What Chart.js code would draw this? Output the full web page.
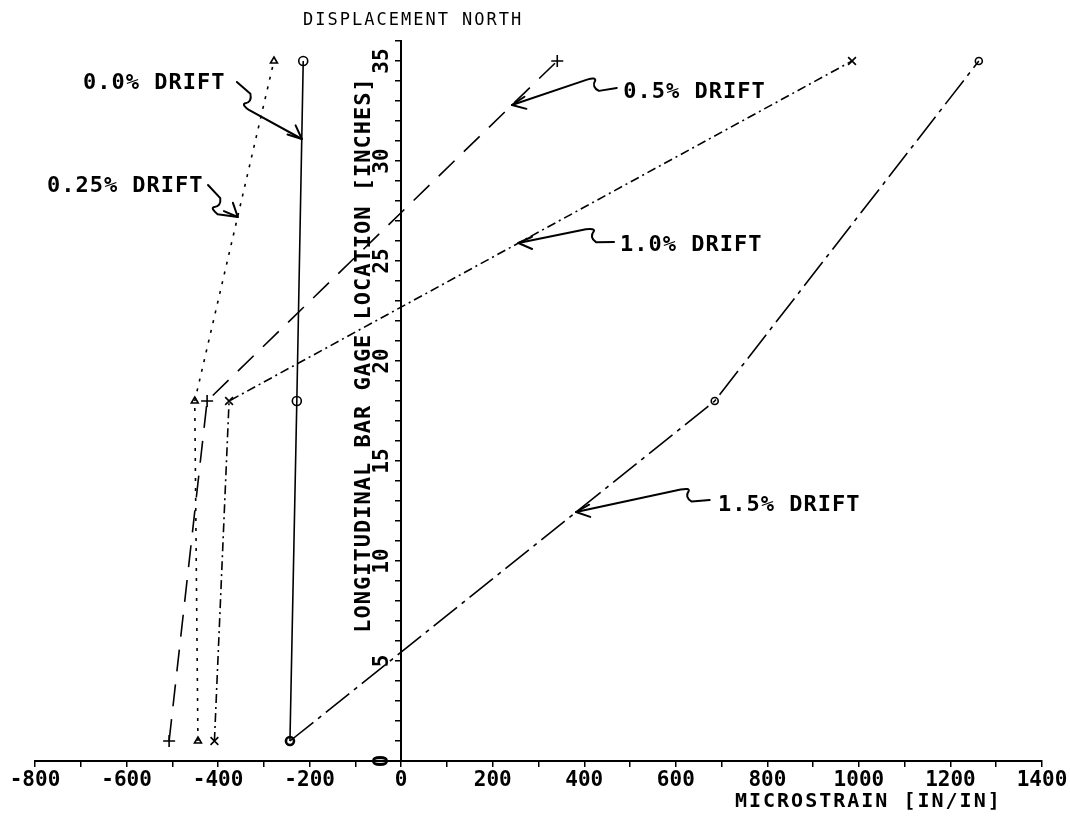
<!DOCTYPE html>
<html>
<head>
<meta charset="utf-8">
<title>Displacement North</title>
<script src="https://cdn.jsdelivr.net/npm/chart.js@4.4.1/dist/chart.umd.min.js"></script>
<style>
  html, body { margin: 0; padding: 0; background: #fff; }
  #wrap { width: 1070px; height: 820px; }
</style>
</head>
<body>
<div id="wrap"><canvas id="strainChart" width="1070" height="820"></canvas></div>
<script>
// ===== gage readings (microstrain) at each bar location (inches) =====
const gageLocations = [1, 18, 35];
const drift00 = [-243, -228, -214];
const drift025 = [-444, -451, -278];
const drift05 = [-507, -424, 341];
const drift10 = [-408, -376, 985];
const drift15 = [-243, 685, 1262];

const xLabelEvery = 200;
const yTickLabels = [0, 5, 10, 15, 20, 25, 30, 35];

// ===== drift callouts (text anchor, squiggle start, arrow tip in axis units) =====
const driftNotes = [
  { text: "0.0% DRIFT", at: [-695, 33.9], from: [-359, 33.95], to: [-217, 31.1] },
  { text: "0.25% DRIFT", at: [-774, 28.75], from: [-422, 28.8], to: [-357, 27.2] },
  { text: "0.5% DRIFT", at: [485, 33.45], from: [471, 33.65], to: [242, 32.8] },
  { text: "1.0% DRIFT", at: [478, 25.8], from: [465, 25.95], to: [256, 25.9] },
  { text: "1.5% DRIFT", at: [692, 12.8], from: [674, 13.05], to: [382, 12.45] }
];

const MONO = "'DejaVu Sans Mono', 'Liberation Mono', monospace";

function toPoints(values) {
  return values.map((v, i) => ({ x: v, y: gageLocations[i] }));
}

function series(values, dash, style, radius) {
  return {
    data: toPoints(values),
    showLine: true,
    borderColor: "#000",
    borderWidth: 1.6,
    borderDash: dash,
    pointStyle: style,
    pointRadius: radius,
    pointBorderColor: "#000",
    pointBackgroundColor: "rgba(0,0,0,0)",
    pointBorderWidth: 1.6
  };
}

// squiggle + arrow from callout text to its curve
function drawDriftArrow(ctx, sx, sy, tx, ty) {
  const dx = tx - sx, dy = ty - sy;
  const len = Math.hypot(dx, dy);
  const ux = dx / len, uy = dy / len;
  const nx = -uy, ny = ux;
  const p = (a, b) => [sx + ux * a + nx * b, sy + uy * a + ny * b];

  ctx.beginPath();
  ctx.moveTo(sx, sy);
  ctx.lineTo(...p(18, 0));
  ctx.quadraticCurveTo(...p(25, 5), ...p(20, 11));
  ctx.quadraticCurveTo(...p(19, 14), ...p(28, 13));
  ctx.lineTo(tx, ty);
  ctx.stroke();

  const back = Math.atan2(-uy, -ux);
  ctx.beginPath();
  [0.42, -0.42].forEach(da => {
    ctx.moveTo(tx, ty);
    ctx.lineTo(tx + 15 * Math.cos(back + da), ty + 15 * Math.sin(back + da));
  });
  ctx.stroke();
}

const plotterText = {
  id: "plotterText",
  afterDraw(chart) {
    const { ctx, scales: { x, y } } = chart;
    const axisX = x.getPixelForValue(0);
    const axisY = y.getPixelForValue(0);

    ctx.save();
    ctx.fillStyle = "#000";
    ctx.strokeStyle = "#000";

    // y tick labels, written up the axis
    ctx.font = "bold 21px " + MONO;
    ctx.textAlign = "center";
    ctx.textBaseline = "middle";
    yTickLabels.forEach(v => {
      ctx.save();
      ctx.translate(axisX - 19, y.getPixelForValue(v));
      ctx.rotate(-Math.PI / 2);
      ctx.fillText(String(v), 0, 0);
      ctx.restore();
    });

    // y axis title
    ctx.save();
    ctx.font = "bold 22px " + MONO;
    ctx.letterSpacing = "1px";
    ctx.translate(axisX - 37, y.getPixelForValue(20.3));
    ctx.rotate(-Math.PI / 2);
    ctx.fillText("LONGITUDINAL BAR GAGE LOCATION [INCHES]", 0, 0);
    ctx.restore();

    // x axis title
    ctx.font = "bold 20px " + MONO;
    ctx.letterSpacing = "2px";
    ctx.textAlign = "right";
    ctx.fillText("MICROSTRAIN [IN/IN]", x.getPixelForValue(1312), axisY + 41);

    // heading
    ctx.font = "17px " + MONO;
    ctx.letterSpacing = "2px";
    ctx.textAlign = "center";
    ctx.fillText("DISPLACEMENT NORTH", axisX + 12, 21);

    // callouts
    ctx.font = "bold 22px " + MONO;
    ctx.letterSpacing = "1px";
    ctx.textAlign = "left";
    ctx.lineWidth = 2;
    ctx.lineCap = "round";
    ctx.lineJoin = "round";
    driftNotes.forEach(n => {
      ctx.fillText(n.text, x.getPixelForValue(n.at[0]), y.getPixelForValue(n.at[1]));
      drawDriftArrow(ctx,
        x.getPixelForValue(n.from[0]), y.getPixelForValue(n.from[1]),
        x.getPixelForValue(n.to[0]), y.getPixelForValue(n.to[1]));
    });

    ctx.restore();
  }
};

new Chart(document.getElementById("strainChart"), {
  type: "scatter",
  data: {
    datasets: [
      series(drift00, [], "circle", 4.5),
      series(drift025, [3, 7], "triangle", 4),
      series(drift05, [22, 13], "cross", 6),
      series(drift10, [9, 4, 2, 4], "crossRot", 5.5),
      series(drift15, [30, 6, 4, 6], "circle", 3.5)
    ]
  },
  options: {
    responsive: false,
    devicePixelRatio: 1,
    animation: false,
    layout: { padding: { left: 35, right: 28, top: 41, bottom: 59 } },
    plugins: { legend: { display: false }, tooltip: { enabled: false } },
    scales: {
      x: {
        type: "linear",
        min: -800,
        max: 1400,
        position: { y: 0 },
        afterFit: s => { s.height = 0; },
        border: { color: "#000", width: 2 },
        grid: { drawOnChartArea: false, color: "#000", lineWidth: 1.5, tickLength: 5 },
        ticks: {
          stepSize: 100,
          autoSkip: false,
          maxRotation: 0,
          padding: 2,
          color: "#000",
          font: { family: MONO, size: 21, weight: "bold" },
          callback: v => (v % xLabelEvery === 0 ? String(v) : "")
        }
      },
      y: {
        type: "linear",
        min: 0,
        max: 36,
        position: { x: 0 },
        afterFit: s => { s.width = 0; },
        border: { color: "#000", width: 2 },
        grid: { drawOnChartArea: false, color: "#000", lineWidth: 1.5, tickLength: 5 },
        ticks: { stepSize: 1, autoSkip: false, display: false }
      }
    }
  },
  plugins: [plotterText]
});
</script>
</body>
</html>
